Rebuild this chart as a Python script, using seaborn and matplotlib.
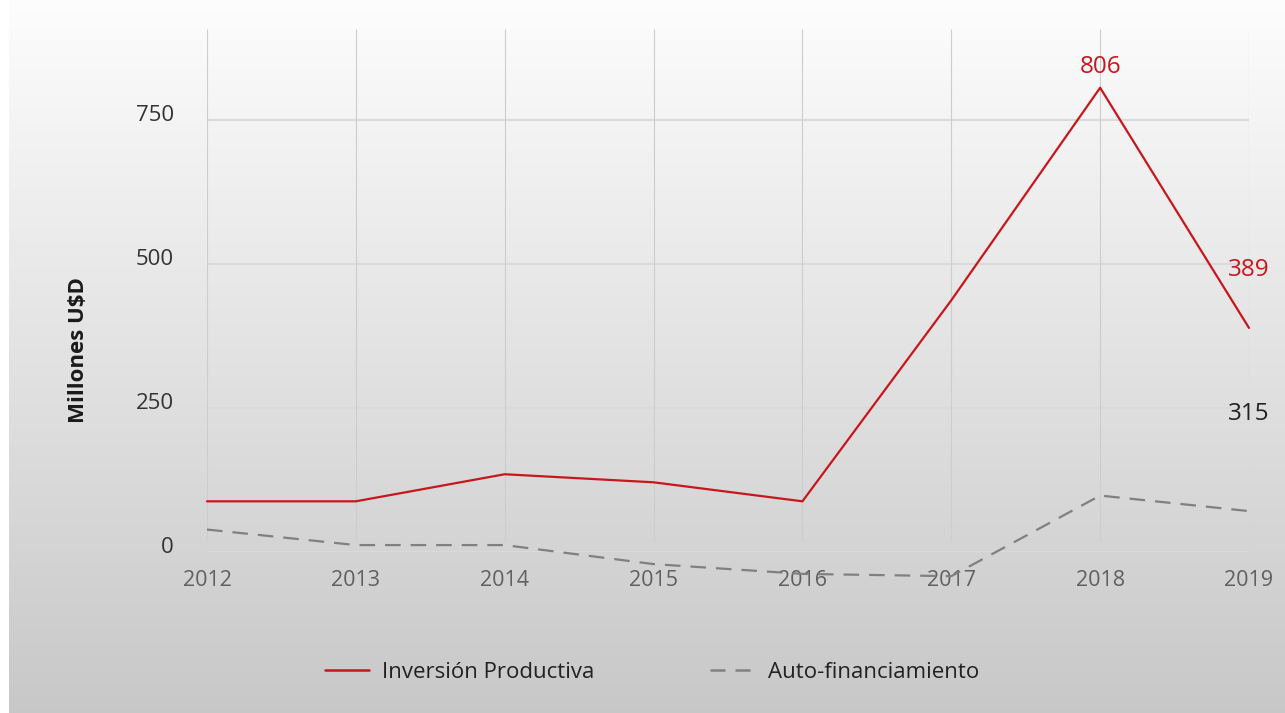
import numpy as np
import pandas as pd
import matplotlib
matplotlib.use("Agg")
import matplotlib.pyplot as plt
import matplotlib.transforms as mtransforms
from matplotlib.lines import Line2D
import seaborn as sns

# Data
years = [2012, 2013, 2014, 2015, 2016, 2017, 2018, 2019]
inversion = [88, 88, 135, 121, 88, 437, 806, 389]
autofin = [39, 12, 12, -21, -38, -42, 98, 71]
series_names = ["Inversión Productiva", "Auto-financiamiento"]
yticks = [0, 250, 500, 750]

df = pd.DataFrame({
    "year": years * 2,
    "value": inversion + autofin,
    "serie": [series_names[0]] * len(years) + [series_names[1]] * len(years),
})

sns.set_theme(style="white")
plt.rcParams["font.family"] = ["Open Sans", "DejaVu Sans"]

fig = plt.figure(figsize=(12.85, 7.13), dpi=100)
fig.patch.set_facecolor("white")

# gradient background
bg = fig.add_axes([9 / 1285, 0, 1 - 9 / 1285, 1], zorder=-10)
grad = np.linspace(0, 1, 256).reshape(-1, 1)
top_c = np.array([0.992, 0.992, 0.992])
bot_c = np.array([0.784, 0.784, 0.784])
img = top_c + (bot_c - top_c) * grad[:, :, None]
bg.imshow(img, aspect="auto", extent=[0, 1, 0, 1], origin="upper")
bg.axis("off")

ax = fig.add_axes([207 / 1285, 161 / 713, 1042 / 1285, 523 / 713])
ax.set_facecolor("none")

red = "#c8161d"
grey = "#808080"
sns.lineplot(data=df, x="year", y="value", hue="serie", style="serie",
             palette={series_names[0]: red, series_names[1]: grey},
             dashes={series_names[0]: "", series_names[1]: (7, 4.5)},
             linewidth=1.6, ax=ax, legend=False, sort=False)
for ln in ax.lines:
    ln.set_clip_on(False)

ax.set_xlim(2012, 2019)
ax.set_ylim(0, 908)
ax.set_yticks(yticks)
ax.set_xticks(years)
ax.set_xlabel("")
ax.set_ylabel("")

# gridlines
for y in yticks:
    ax.axhline(y, color="#dadada", lw=1.6, zorder=0)
ax.vlines(years, 19, 908, color="#cdcdcd", lw=0.8, zorder=0)
for s in ax.spines.values():
    s.set_visible(False)

ax.tick_params(axis="both", length=0)
ax.tick_params(axis="x", pad=13, labelsize=15.5, labelcolor="#606060")
ax.tick_params(axis="y", pad=24, labelsize=16, labelcolor="#333333")
offset = mtransforms.ScaledTranslation(0, 0.07, fig.dpi_scale_trans)
for lab in ax.get_yticklabels():
    lab.set_transform(lab.get_transform() + offset)

# data labels
ax.annotate("806", xy=(2018, 806), xytext=(0, 15), textcoords="offset points",
            ha="center", va="center", color=red, fontsize=17.5)
ax.annotate("389", xy=(2019, 389), xytext=(0, 42), textcoords="offset points",
            ha="center", va="center", color=red, fontsize=17.5, annotation_clip=False)
ax.annotate("315", xy=(2019, 315), xytext=(0, -31), textcoords="offset points",
            ha="center", va="center", color="#222222", fontsize=17.5, annotation_clip=False)

fig.text(79 / 1285, 1 - 350 / 713, r"Millones U\$D", rotation=90, ha="center",
         va="center", fontsize=16, fontweight="bold", color="#1a1a1a")

# legend
handles = [Line2D([], [], color=red, lw=1.8),
           Line2D([], [], color=grey, lw=1.8, dashes=(6, 4))]
fig.legend(handles, series_names, loc="center", bbox_to_anchor=(652 / 1285, 1 - 672 / 713),
           ncol=2, frameon=False, fontsize=16, handlelength=2.0, handletextpad=0.6,
           columnspacing=5.2, labelcolor="#222222")

fig.savefig("out.png", dpi=100)
